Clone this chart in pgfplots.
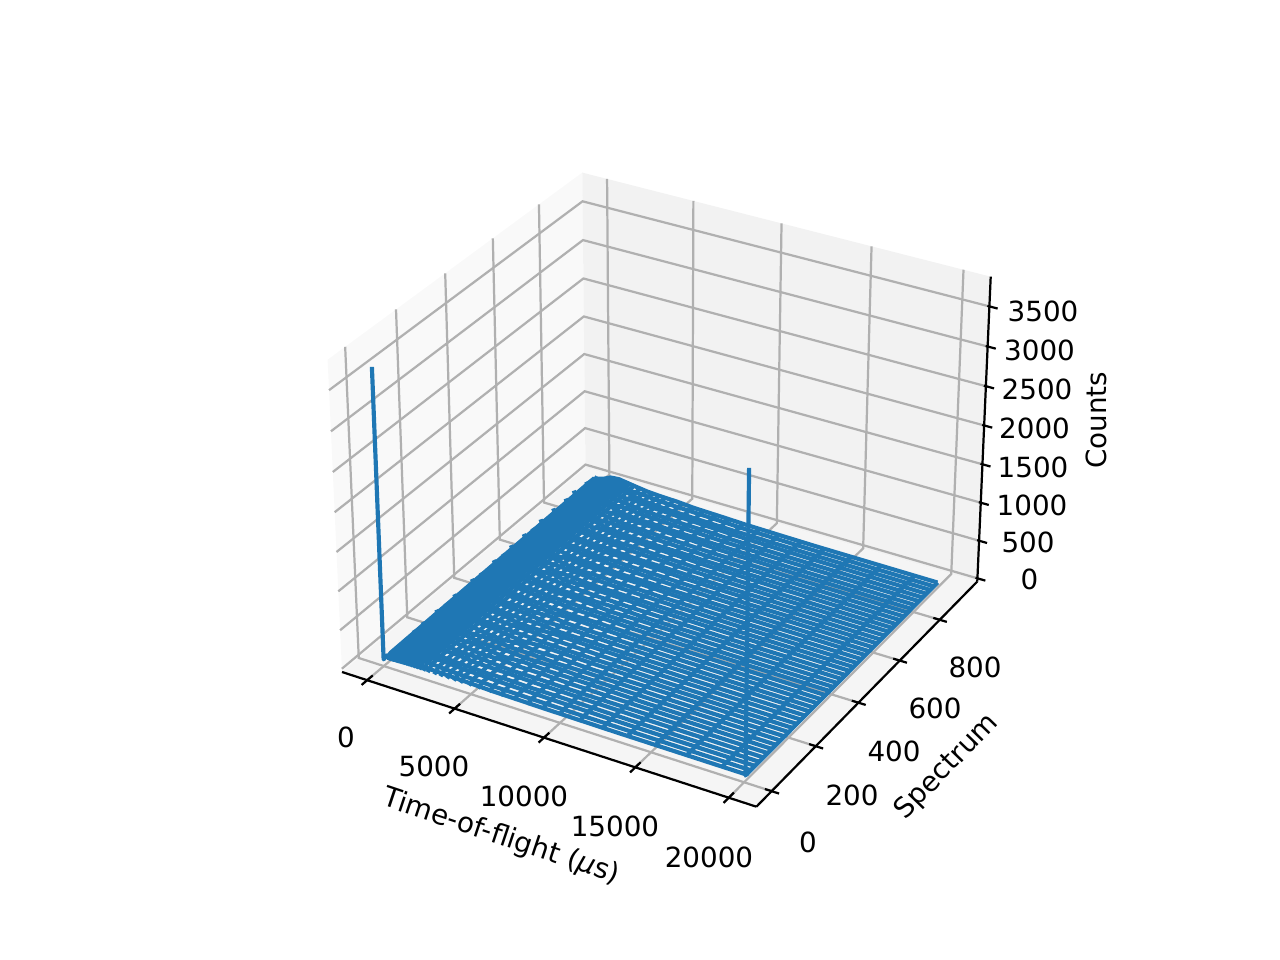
\documentclass[border=0pt]{standalone}
\usepackage{pgfplots}
\usepackage{pgfplotstable}
\usepackage{fontspec}
\setmainfont{DejaVu Sans}
\pgfplotsset{compat=1.18}
\definecolor{cnull}{HTML}{1F77B4}
\definecolor{gridc}{HTML}{B0B0B0}
\tikzset{
  wire/.style={cnull,line width=1.5bp,line join=round},
  gridl/.style={gridc,line width=0.8bp,line join=miter},
  axl/.style={black,line width=0.8bp},
  lab/.style={font=\fontsize{10bp}{12bp}\selectfont,inner sep=0pt}}
% perspective projection of (time-of-flight, spectrum, counts) onto the page, in pixels of 1280x960
\newcommand\VA[1]{(1.14286*((#1+1458)/22917-0.5))}
\newcommand\VB[1]{(1.14286*((#1+67.5)/1061-0.5))}
\newcommand\VC[1]{(0.85714*((#1+43)/3910-0.5))}
\newcommand\VD[3]{(10-(0.43301*\VA{#1}-0.75*\VB{#2}+0.5*\VC{#3}))}
\newcommand\PX[3]{665.3+4155*(0.86603*\VA{#1}+0.5*\VB{#2})/\VD{#1}{#2}{#3}}
\newcommand\PY[3]{485+4155*(-0.25*\VA{#1}+0.43301*\VB{#2}+0.86603*\VC{#3})/\VD{#1}{#2}{#3}}
\newcommand\Poly[2]{\addplot[#1] table[x expr={\PX{\thisrow{t}}{\thisrow{s}}{\thisrow{z}}},y expr={\PY{\thisrow{t}}{\thisrow{s}}{\thisrow{z}}},row sep=\\]{t s z\\ #2};}
\newcommand\Col[5]{\addplot[wire] table[x expr={\PX{#1}{\thisrow{s}}{\thisrow{z}}},y expr={\PY{#1}{\thisrow{s}}{\thisrow{z}}},row sep=\\]{s z\\ 10 25\\ 29 #2+25\\ 310 #3+25\\ 610 #4+25\\ 922 #5+25\\};}
\pgfplotstableread[row sep=\\]{
t z19 z38 z57 z76 z95 z114 z133 z152 z171 z190 z209 z228 z247 z266 z285 z304 z323 z342 z361 z380 z399 z418 z437 z456 z475 z494 z513 z532 z551 z570 z589 z608 z627 z646 z665 z684 z703 z722 z741 z760 z779 z798 z817 z836 z855 z874 z893 z912\\
5 10 50 20 60 30 70 25 75 35 55 85 40 70 30 90 50 65 35 95 45 80 55 40 100 60 85 45 105 70 50 110 65 90 55 115 75 60 120 85 70 110 55 125 80 65 105 90 75\\
100 30 38 33 36 42 35 44 38 41 47 40 50 43 46 52 45 54 48 51 57 47 55 49 59 52 61 54 50 63 57 65 53 60 67 56 62 58 69 61 64 59 71 62 66 60 68 63 65\\
300 36 42 38 45 40 48 43 50 46 52 48 44 55 50 57 47 59 53 49 61 55 63 52 58 65 56 60 67 54 69 61 57 71 63 68 59 73 65 70 62 74 67 72 64 69 75 66 70\\
600 50 55 48 60 53 62 57 65 59 54 68 61 70 63 58 72 66 75 60 74 68 78 64 71 80 70 76 66 83 73 79 86 72 81 76 88 78 84 90 80 87 82 92 85 89 94 84 91\\
1000 72 80 68 86 76 90 82 94 84 78 98 88 102 92 86 106 96 110 90 108 100 114 94 104 118 102 112 98 122 108 116 126 106 120 112 130 114 124 132 118 128 122 136 126 130 138 124 134\\
1500 76 86 72 92 82 98 88 102 90 84 106 94 110 98 92 114 102 118 96 116 108 122 100 112 126 110 120 106 130 116 124 134 114 128 120 138 122 132 142 126 136 130 146 134 140 150 132 144\\
2500 52 66 48 70 58 76 62 80 56 72 86 64 78 92 68 84 60 90 74 96 70 88 78 100 66 94 84 104 76 92 108 82 98 74 106 90 86 112 80 102 94 116 88 106 98 118 92 110\\
3200 40 60 36 66 44 58 72 46 64 50 78 54 60 80 50 72 62 84 56 78 66 90 60 74 92 64 82 70 96 62 86 72 98 66 90 76 100 70 88 80 104 74 96 84 106 78 92 88\\
4000 34 46 30 42 50 36 48 40 54 34 52 44 58 38 50 62 42 56 46 64 48 58 40 66 52 60 70 46 62 54 72 50 66 58 76 48 68 56 74 62 78 54 70 64 80 60 72 76\\
5000 26 42 22 38 30 46 24 44 34 50 28 40 52 36 46 30 56 42 34 54 44 60 38 50 62 40 56 46 66 38 58 48 68 44 60 52 70 46 64 54 74 50 66 58 72 48 62 68\\
6000 20 32 24 36 18 30 38 26 34 22 40 28 36 44 24 38 30 46 26 42 34 48 28 40 50 32 44 36 52 30 46 38 54 34 50 42 56 36 48 44 58 40 52 46 60 42 54 50\\
7500 16 26 14 24 18 28 22 30 16 26 32 20 28 34 22 30 24 36 26 38 28 24 34 30 40 26 36 30 42 28 38 32 44 30 40 34 46 32 38 36 48 34 42 38 46 32 44 40\\
9000 12 18 14 20 11 17 21 15 19 13 22 16 20 25 15 22 18 26 16 24 20 27 17 23 28 19 25 21 29 18 26 22 30 20 28 24 31 21 27 25 32 23 29 26 33 24 30 28\\
11000 8 13 10 14 9 12 15 11 13 10 16 12 14 17 11 15 13 18 12 17 14 19 13 16 20 14 18 15 21 13 19 16 22 14 20 17 23 15 19 18 24 16 21 19 24 17 22 20\\
13000 6 8 5 9 7 10 6 8 7 11 9 6 10 8 12 7 10 9 11 13 8 10 12 9 14 10 12 9 13 11 15 10 13 12 14 11 16 12 14 13 15 12 15 13 16 12 14 13\\
19990 2 3 1 2 3 2 1 3 2 3 2 1 3 2 4 2 3 1 2 4 3 2 3 2 4 3 2 3 4 2 3 4 2 3 4 3 2 4 3 4 3 2 4 3 3 4 2 3\\
}\Rows
\begin{document}
\begin{tikzpicture}
\useasboundingbox (0,0) rectangle (6.4in,4.8in);
\begin{axis}[at={(0,0)},anchor=south west,scale only axis,width=6.4in,height=4.8in,
  xmin=0,xmax=1280,ymin=0,ymax=960,hide axis,clip=false]
% panes
\Poly{fill=black!2.5,draw=none}{-1458 -67.5 -43\\ -1458 993.5 -43\\ -1458 993.5 3867\\ -1458 -67.5 3867\\}
\Poly{fill=black!5,draw=none}{-1458 993.5 -43\\ 21458 993.5 -43\\ 21458 993.5 3867\\ -1458 993.5 3867\\}
\Poly{fill=black!3.75,draw=none}{-1458 -67.5 -43\\ 21458 -67.5 -43\\ 21458 993.5 -43\\ -1458 993.5 -43\\}
% grid
\pgfplotsinvokeforeach{0,5000,10000,15000,20000}{\Poly{gridl}{#1 -67.5 -43\\ #1 993.5 -43\\ #1 993.5 3867\\}}
\pgfplotsinvokeforeach{0,200,400,600,800}{\Poly{gridl}{21458 #1 -43\\ -1458 #1 -43\\ -1458 #1 3867\\}}
\pgfplotsinvokeforeach{0,500,1000,1500,2000,2500,3000,3500}{\Poly{gridl}{-1458 -67.5 #1\\ -1458 993.5 #1\\ 21458 993.5 #1\\}}
% axis lines
\Poly{axl}{-1458 -67.5 -43\\ 21458 -67.5 -43\\}
\Poly{axl}{21458 -67.5 -43\\ 21458 993.5 -43\\}
\Poly{axl}{21458 993.5 -43\\ 21458 993.5 3867\\}
% ticks
\pgfplotsinvokeforeach{0,5000,10000,15000,20000}{\Poly{axl}{#1 -90 -43\\ #1 -45 -43\\}}
\pgfplotsinvokeforeach{0,200,400,600,800}{\Poly{axl}{21100 #1 -43\\ 21850 #1 -43\\}}
\pgfplotsinvokeforeach{0,500,1000,1500,2000,2500,3000,3500}{\Poly{axl}{21350 993.5 #1\\ 21900 993.5 #1\\}}
% wireframe: lines along time-of-flight at constant spectrum
\pgfplotsinvokeforeach{19,38,57,76,95,114,133,152,171,190,209,228,247,266,285,304,323,342,361,380,399,418,437,456,475,494,513,532,551,570,589,608,627,646,665,684,703,722,741,760,779,798,817,836,855,874,893,912}{
\addplot[wire] table[x expr={\PX{\thisrow{t}}{(#1+10)}{(\thisrow{z#1}+25)}},y expr={\PY{\thisrow{t}}{(#1+10)}{(\thisrow{z#1}+25)}}]{\Rows};
}
% first spectrum, with the two tall spikes
\Poly{wire}{5 0 3715\\ 5 0 45\\ 30 10 70\\ 300 10 80\\ 1000 10 85\\ 2500 10 75\\ 4000 10 65\\ 6000 10 50\\ 9000 10 40\\ 13000 10 32\\ 19990 10 27\\ 20000 6 25\\ 20000 6 3775\\}
% wireframe: lines along spectrum at constant time-of-flight
\Col{10}{30}{40}{50}{60}
\Col{50}{30}{40}{50}{60}
\Col{90}{30}{40}{50}{60}
\Col{120}{31}{41}{51}{62}
\Col{150}{32}{42}{52}{63}
\Col{170}{32}{42}{53}{64}
\Col{190}{33}{43}{54}{65}
\Col{210}{33}{44}{55}{66}
\Col{235}{34}{44}{56}{67}
\Col{265}{34}{45}{56}{68}
\Col{295}{35}{46}{58}{70}
\Col{330}{36}{48}{60}{72}
\Col{370}{38}{50}{62}{75}
\Col{410}{39}{51}{65}{78}
\Col{460}{41}{54}{68}{82}
\Col{515}{43}{57}{71}{86}
\Col{575}{45}{59}{75}{90}
\Col{640}{48}{64}{80}{97}
\Col{715}{52}{69}{87}{105}
\Col{800}{58}{76}{95}{115}
\Col{890}{62}{82}{104}{125}
\Col{995}{69}{91}{115}{138}
\Col{1110}{71}{94}{118}{142}
\Col{1240}{73}{96}{121}{146}
\Col{1390}{75}{98}{124}{149}
\Col{1550}{74}{98}{123}{148}
\Col{1730}{70}{92}{116}{140}
\Col{1930}{65}{86}{108}{130}
\Col{2150}{61}{80}{101}{122}
\Col{2400}{56}{74}{93}{112}
\Col{2780}{51}{67}{85}{102}
\Col{3130}{46}{61}{76}{92}
\Col{3510}{42}{55}{70}{84}
\Col{3900}{38}{50}{63}{76}
\Col{4270}{36}{48}{60}{72}
\Col{4760}{33}{44}{55}{66}
\Col{5270}{30}{40}{50}{60}
\Col{5900}{27}{36}{45}{54}
\Col{6550}{24}{32}{40}{48}
\Col{7300}{21}{28}{35}{42}
\Col{8050}{18}{24}{31}{37}
\Col{8890}{16}{20}{26}{31}
\Col{9840}{13}{17}{22}{26}
\Col{10950}{10}{13}{17}{20}
\Col{12210}{8}{10}{12}{15}
\Col{13580}{6}{7}{9}{11}
\Col{15100}{4}{5}{7}{8}
\Col{16800}{3}{4}{5}{6}
\Col{18700}{2}{3}{3}{4}
\Col{20000}{2}{2}{3}{3}
% tick labels
\node[lab] at (axis cs:346,223) {0};
\node[lab] at (axis cs:434,194) {5000};
\node[lab] at (axis cs:524,164) {10000};
\node[lab] at (axis cs:615,134) {15000};
\node[lab] at (axis cs:709,103) {20000};
\node[lab] at (axis cs:808,118) {0};
\node[lab] at (axis cs:852,165) {200};
\node[lab] at (axis cs:894,209) {400};
\node[lab] at (axis cs:935,252) {600};
\node[lab] at (axis cs:975,293) {800};
\node[lab] at (axis cs:1029.5,381) {0};
\node[lab] at (axis cs:1028,418) {500};
\node[lab] at (axis cs:1032,455) {1000};
\node[lab] at (axis cs:1033,493) {1500};
\node[lab] at (axis cs:1034.5,532) {2000};
\node[lab] at (axis cs:1037,571) {2500};
\node[lab] at (axis cs:1039.5,610) {3000};
\node[lab] at (axis cs:1043,649) {3500};
% axis labels
\node[lab,rotate=-18.5] at (axis cs:501,123) {Time-of-flight ({\itshape μ}s)};
\node[lab,rotate=46] at (axis cs:947,193) {Spectrum};
\node[lab,rotate=90] at (axis cs:1096,539.5) {Counts};
\end{axis}
\end{tikzpicture}
\end{document}
